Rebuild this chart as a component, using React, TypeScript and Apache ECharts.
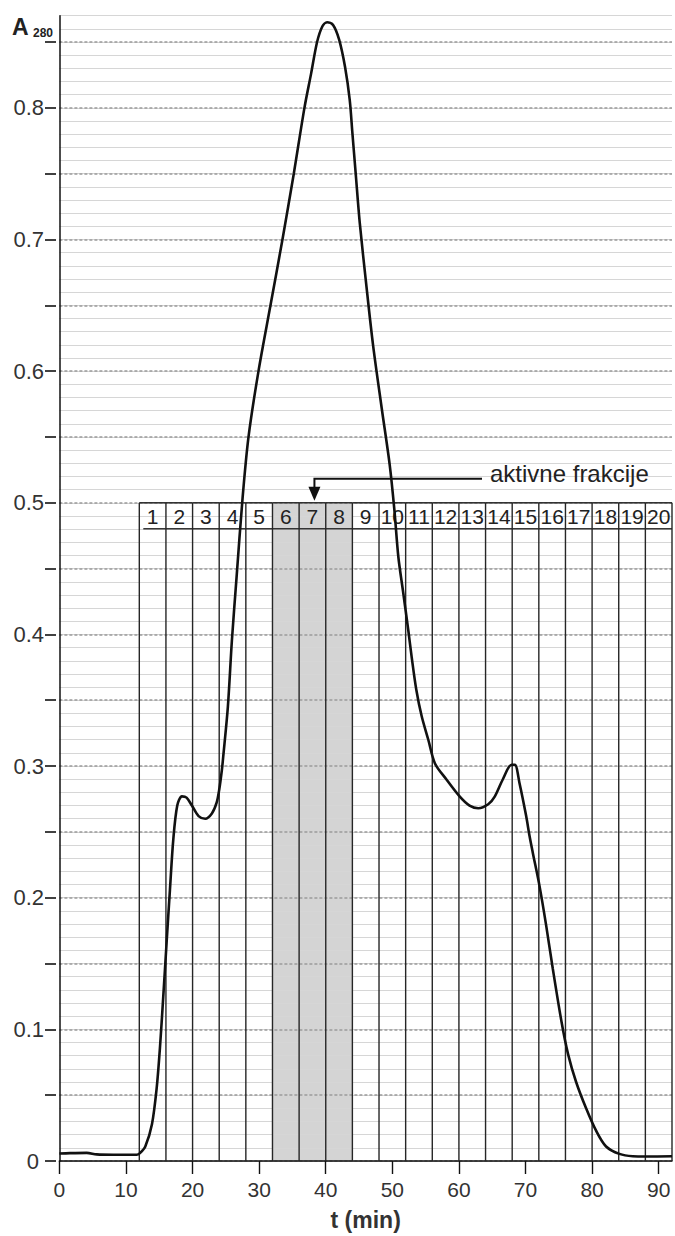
import React, { useEffect, useRef } from 'react';
import * as echarts from 'echarts';

// Elution profile: time (min) and absorbance at 280 nm
const timeMin = [
  0, 1.6, 4.1, 5.6, 8.1, 11.6, 12.1, 12.9, 13.9, 14.6, 15.1, 15.6, 16.1, 16.6, 17.1, 17.7,
  18.4, 19.1, 19.9, 20.9, 21.9, 22.9, 23.6, 24.0, 24.4, 24.6, 25.3, 25.9, 26.6, 27.5, 28.4,
  29.9, 31.7, 33.5, 35.2, 36.8, 37.8, 38.7, 39.5, 40.2, 41.1, 42.0, 42.9, 43.6,
  44.0, 44.5, 45.1, 46.1, 47.1, 48.4, 49.6, 50.3, 50.9, 51.6, 52.4, 52.9, 53.6, 54.4, 55.4,
  56.4, 58.1, 60.1, 61.6, 62.9, 64.4, 65.4, 66.6, 67.9, 68.4, 69.1, 70.1, 70.6, 71.1, 72.1,
  73.1, 74.1, 75.4, 76.4, 77.6, 79.1, 80.6, 82.1, 84.1, 86.1, 88.1, 92,
];
const a280 = [
  0.0057, 0.006, 0.0062, 0.005, 0.0047, 0.0047, 0.006, 0.011, 0.028, 0.055, 0.086, 0.125, 0.166, 0.206, 0.244, 0.27,
  0.277, 0.276, 0.27, 0.262, 0.26, 0.264, 0.272, 0.282, 0.297, 0.307, 0.345, 0.395, 0.443, 0.503, 0.55,
  0.6, 0.65, 0.7, 0.75, 0.8, 0.826, 0.85, 0.862, 0.865, 0.863, 0.852, 0.831, 0.806,
  0.781, 0.75, 0.713, 0.665, 0.62, 0.572, 0.529, 0.495, 0.459, 0.433, 0.403, 0.383, 0.358, 0.338, 0.32,
  0.302, 0.29, 0.277, 0.27, 0.268, 0.271, 0.277, 0.29, 0.301, 0.301, 0.287, 0.262, 0.247, 0.234, 0.209,
  0.179, 0.146, 0.106, 0.081, 0.06, 0.04, 0.023, 0.011, 0.0054, 0.0036, 0.0034, 0.0036,
];

// Collected fractions (edges in min) and their labels
const fractionEdges = [12, 16, 20, 24, 28, 32, 36, 40, 44, 48, 52, 56, 60, 64, 68, 72, 76, 80, 84, 88, 92];
const fractionLabels = ['1', '2', '3', '4', '5', '6', '7', '8', '9', '10', '11', '12', '13', '14', '15', '16', '17', '18', '19', '20'];
const activeFractions = ['6', '7', '8'];
const arrowFraction = '7';
const fractionTop = 0.5;
const annotationText = 'aktivne frakcije';

// Axis ticks / labels
const xTicks = [0, 10, 20, 30, 40, 50, 60, 70, 80, 90];
const yMajorTicks = [0, 0.05, 0.1, 0.15, 0.2, 0.25, 0.3, 0.35, 0.4, 0.45, 0.5, 0.55, 0.6, 0.65, 0.7, 0.75, 0.8, 0.85];
const yLabelValues = [0, 0.1, 0.2, 0.3, 0.4, 0.5, 0.6, 0.7, 0.8];
const xName = 't (min)';
const yNameMain = 'A';
const yNameSub = '280';

const FONT = '"Liberation Sans", Arial, sans-serif';

export default function App() {
  const ref = useRef<HTMLDivElement>(null);

  useEffect(() => {
    const chart = echarts.init(ref.current!, null, { renderer: 'svg' });
    const HEADER_H = 26;
    const allFractions = fractionLabels.map((lab, i) => [fractionEdges[i], fractionEdges[i + 1], fractionTop, i]);
    const activeData = allFractions.filter((d) => activeFractions.indexOf(fractionLabels[d[3]]) >= 0);

    const lineStyle = { stroke: '#262626', lineWidth: 1.4 };

    chart.setOption({
      animation: false,
      grid: { left: 59.4, right: 3, top: 15.7, bottom: 69.5, containLabel: false },
      xAxis: {
        type: 'value',
        min: 0,
        max: 92,
        interval: 10,
        axisLine: { show: true, onZero: false, lineStyle: { color: '#111', width: 1.5 } },
        axisTick: { show: true, length: 13, customValues: xTicks, lineStyle: { color: '#111', width: 1.4 } },
        axisLabel: { customValues: xTicks, fontSize: 21, color: '#333', fontFamily: FONT, margin: 18 },
        splitLine: { show: false },
        name: xName,
        nameLocation: 'middle',
        nameGap: 47,
        nameTextStyle: { fontWeight: 'bold', fontSize: 23, color: '#333', fontFamily: FONT },
      },
      yAxis: [
        {
          type: 'value',
          position: 'left',
          min: 0,
          max: 0.87,
          interval: 0.01,
          offset: 3.4,
          axisLine: { show: true, lineStyle: { color: '#111', width: 1.5 } },
          axisTick: { show: false },
          axisLabel: { show: false },
          splitLine: { show: true, lineStyle: { color: '#d6d6d6', width: 1 } },
        },
        {
          type: 'value',
          position: 'left',
          min: 0,
          max: 0.87,
          interval: 0.05,
          offset: 3.4,
          axisLine: { show: false },
          axisTick: { show: true, length: 11, customValues: yMajorTicks, lineStyle: { color: '#111', width: 1.6 } },
          axisLabel: {
            customValues: yLabelValues,
            fontSize: 22,
            color: '#333',
            fontFamily: FONT,
            margin: 12,
            formatter: (v: number) => (Math.abs(v) < 1e-9 ? '{z|0}' : v.toFixed(1)),
            rich: { z: { fontSize: 22, color: '#333', fontFamily: FONT, padding: [0, 5, 0, 0] } },
          },
          splitLine: { show: true, lineStyle: { color: '#9a9a9a', type: [3, 2], width: 1.5 } },
        },
      ],
      series: [
        {
          type: 'custom',
          z: -1,
          silent: true,
          encode: { x: [0, 1], y: 2 },
          data: activeData,
          renderItem: (params: any, api: any) => {
            const p0 = api.coord([api.value(0), api.value(2)]);
            const p1 = api.coord([api.value(1), 0]);
            return {
              type: 'rect',
              shape: { x: p0[0], y: p0[1], width: p1[0] - p0[0], height: p1[1] - p0[1] },
              style: { fill: '#d4d4d4' },
            };
          },
        },
        {
          type: 'custom',
          z: 3,
          silent: true,
          encode: { x: [0, 1], y: 2 },
          data: allFractions,
          renderItem: (params: any, api: any) => {
            const i = api.value(3);
            const top = api.coord([api.value(0), api.value(2)]);
            const bottom = api.coord([api.value(0), 0]);
            const xe = api.coord([api.value(1), 0])[0];
            const xs = top[0];
            const yTop = top[1];
            const yBot = bottom[1];
            const children: any[] = [
              { type: 'line', shape: { x1: xs, y1: yTop, x2: xs, y2: yBot }, style: lineStyle },
              { type: 'line', shape: { x1: xs, y1: yTop, x2: xe, y2: yTop }, style: lineStyle },
              {
                type: 'line',
                shape: { x1: i === 0 ? xs + 4 : xs, y1: yTop + HEADER_H, x2: xe, y2: yTop + HEADER_H },
                style: lineStyle,
              },
              {
                type: 'text',
                x: (xs + xe) / 2,
                y: yTop + HEADER_H / 2 + 1,
                style: {
                  text: fractionLabels[i],
                  fill: '#222',
                  font: `21px ${FONT}`,
                  align: 'center',
                  verticalAlign: 'middle',
                },
              },
            ];
            if (i === fractionLabels.length - 1) {
              children.push({ type: 'line', shape: { x1: xe, y1: yTop, x2: xe, y2: yBot }, style: lineStyle });
            }
            return { type: 'group', children };
          },
        },
        {
          type: 'line',
          z: 10,
          data: timeMin.map((t, i) => [t, a280[i]]),
          showSymbol: false,
          smooth: 0.3,
          lineStyle: { color: '#111', width: 2.6 },
        },
      ],
    });

    const ai = fractionLabels.indexOf(arrowFraction);
    const p = chart.convertToPixel({ xAxisIndex: 0, yAxisIndex: 0 }, [
      (fractionEdges[ai] + fractionEdges[ai + 1]) / 2,
      fractionTop,
    ]) as number[];
    const ax = p[0] + 2;
    const ay = p[1];
    const lineY = ay - 24;
    chart.setOption({
      graphic: [
        {
          type: 'text',
          left: 12,
          top: 15,
          style: { text: yNameMain, font: `bold 23px ${FONT}`, fill: '#222' },
        },
        {
          type: 'text',
          left: 33,
          top: 27,
          style: { text: yNameSub, font: `bold 12px ${FONT}`, fill: '#222' },
        },
        {
          type: 'polyline',
          shape: { points: [[482, lineY], [ax, lineY], [ax, ay - 14]] },
          style: { stroke: '#111', lineWidth: 2, fill: null },
        },
        {
          type: 'polygon',
          shape: { points: [[ax - 6, ay - 16], [ax + 6, ay - 16], [ax, ay - 2]] },
          style: { fill: '#111' },
        },
        {
          type: 'text',
          x: 490,
          y: lineY - 5,
          style: { text: annotationText, font: `24px ${FONT}`, fill: '#222', verticalAlign: 'middle' },
        },
      ],
    });

    return () => chart.dispose();
  }, []);

  return (
    <div
      ref={ref}
      style={{ position: 'absolute', left: 0, top: 0, width: 675, height: 1236, background: '#fff' }}
    />
  );
}
